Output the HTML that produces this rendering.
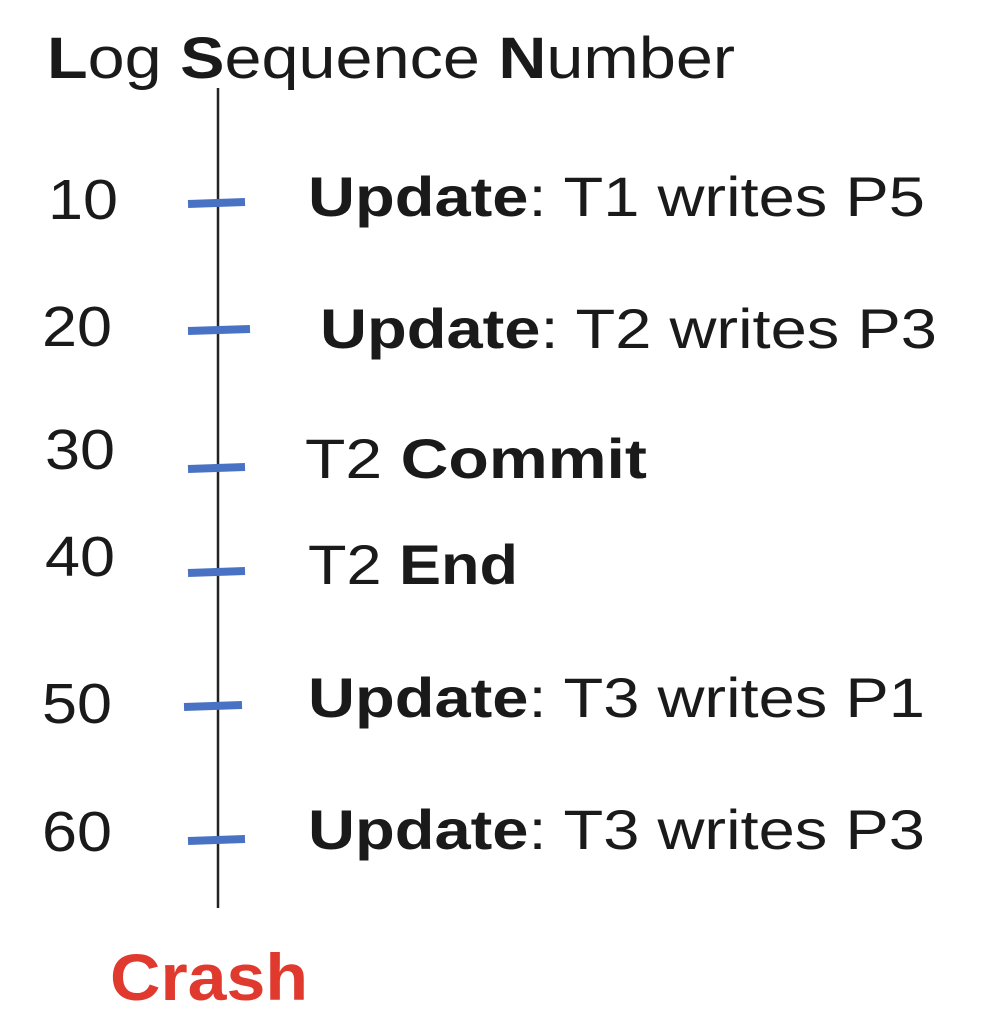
<!DOCTYPE html>
<html><head><meta charset="utf-8"><style>
html,body{margin:0;padding:0;background:#fff;}
svg{display:block;}
text{font-family:"Liberation Sans",sans-serif;fill:#1a1a1a;}
</style></head><body>
<svg width="1006" height="1028" viewBox="0 0 1006 1028" xmlns="http://www.w3.org/2000/svg">
<rect width="1006" height="1028" fill="#fff"/>
<text x="47" y="78" font-size="58" textLength="688" lengthAdjust="spacingAndGlyphs"><tspan font-weight="bold">L</tspan>og <tspan font-weight="bold">S</tspan>equence <tspan font-weight="bold">N</tspan>umber</text>
<line x1="218" y1="88" x2="218" y2="908" stroke="#222" stroke-width="2.5"/>
<g stroke="#4a72c4" stroke-width="8">
<line x1="188" y1="204" x2="245" y2="202"/>
<line x1="188" y1="331" x2="250" y2="329"/>
<line x1="188" y1="469" x2="245" y2="467"/>
<line x1="188" y1="573" x2="245" y2="571"/>
<line x1="184" y1="707" x2="242" y2="705"/>
<line x1="188" y1="841" x2="245" y2="839"/>
</g>
<g font-size="57">
<text x="48" y="219" textLength="70" lengthAdjust="spacingAndGlyphs">10</text>
<text x="42" y="346" textLength="70" lengthAdjust="spacingAndGlyphs">20</text>
<text x="45" y="469" textLength="70" lengthAdjust="spacingAndGlyphs">30</text>
<text x="45" y="576" textLength="70" lengthAdjust="spacingAndGlyphs">40</text>
<text x="42" y="723" textLength="70" lengthAdjust="spacingAndGlyphs">50</text>
<text x="42" y="851" textLength="70" lengthAdjust="spacingAndGlyphs">60</text>
</g>
<g font-size="56">
<text x="308" y="216" textLength="617" lengthAdjust="spacingAndGlyphs"><tspan font-weight="bold">Update</tspan>: T1 writes P5</text>
<text x="320" y="348" textLength="617" lengthAdjust="spacingAndGlyphs"><tspan font-weight="bold">Update</tspan>: T2 writes P3</text>
<text x="305" y="478" textLength="342" lengthAdjust="spacingAndGlyphs">T2 <tspan font-weight="bold">Commit</tspan></text>
<text x="308" y="584" textLength="210" lengthAdjust="spacingAndGlyphs">T2 <tspan font-weight="bold">End</tspan></text>
<text x="308" y="717" textLength="617" lengthAdjust="spacingAndGlyphs"><tspan font-weight="bold">Update</tspan>: T3 writes P1</text>
<text x="308" y="849" textLength="617" lengthAdjust="spacingAndGlyphs"><tspan font-weight="bold">Update</tspan>: T3 writes P3</text>
</g>
<text x="110" y="1000" font-size="66" font-weight="bold" style="fill:#e03a2e" textLength="198" lengthAdjust="spacingAndGlyphs">Crash</text>
</svg>
</body></html>
